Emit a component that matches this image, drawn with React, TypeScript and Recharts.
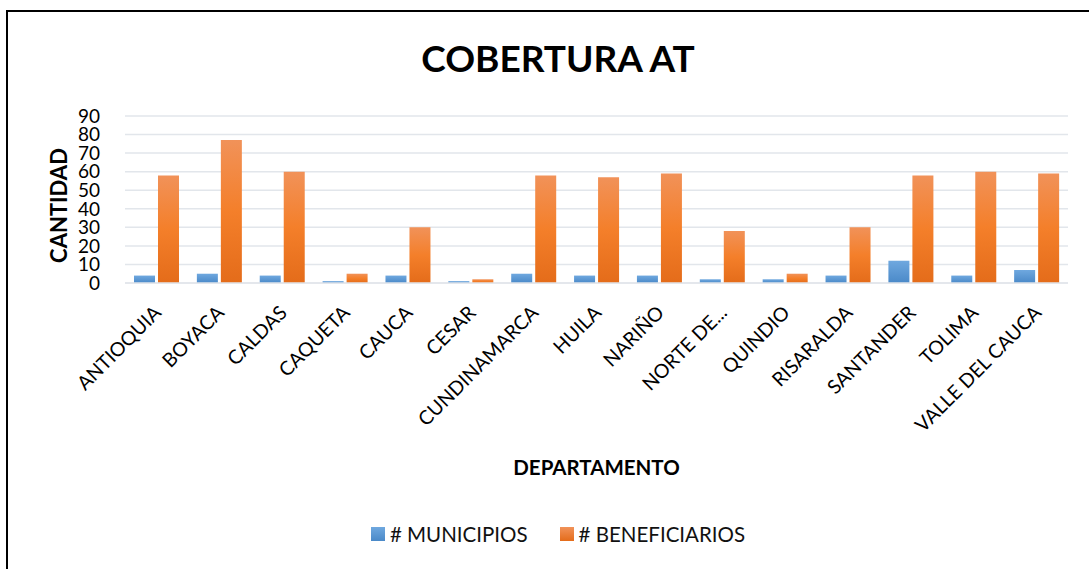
import { BarChart, Bar, XAxis, YAxis, CartesianGrid, Label } from 'recharts';

const departamentos = [
  'ANTIOQUIA', 'BOYACA', 'CALDAS', 'CAQUETA', 'CAUCA', 'CESAR', 'CUNDINAMARCA', 'HUILA',
  'NARIÑO', 'NORTE DE...', 'QUINDIO', 'RISARALDA', 'SANTANDER', 'TOLIMA', 'VALLE DEL CAUCA',
];
const municipios = [4, 5, 4, 1, 4, 1, 5, 4, 4, 2, 2, 4, 12, 4, 7];
const beneficiarios = [58, 77, 60, 5, 30, 2, 58, 57, 59, 28, 5, 30, 58, 60, 59];
const yTicks = [0, 10, 20, 30, 40, 50, 60, 70, 80, 90];

const data = departamentos.map((d, i) => ({
  name: d,
  municipios: municipios[i],
  beneficiarios: beneficiarios[i],
}));

const FONT = 'Lato, "Open Sans", sans-serif';

const XTick = (props: any) => {
  const { x, y, payload } = props;
  return (
    <g transform={`translate(${x + 6},${y + 23})`}>
      <text transform="rotate(-45)" textAnchor="end" fontSize={19.5} fill="#000" fontFamily={FONT}>
        {payload.value}
      </text>
    </g>
  );
};

const YTitle = (props: any) => {
  const { viewBox } = props;
  const cx = viewBox.x + 13;
  const cy = viewBox.y + viewBox.height / 2 + 6;
  return (
    <text
      x={cx}
      y={cy}
      transform={`rotate(-90, ${cx}, ${cy})`}
      textAnchor="middle"
      dominantBaseline="central"
      fontSize={22}
      fontWeight="bold"
      fontFamily={FONT}
      fill="#000"
    >
      CANTIDAD
    </text>
  );
};

const XTitle = (props: any) => {
  const { viewBox } = props;
  return (
    <text
      x={viewBox.x + viewBox.width / 2}
      y={467}
      textAnchor="middle"
      dominantBaseline="central"
      fontSize={20.5}
      fontWeight="bold"
      fontFamily={FONT}
      fill="#000"
    >
      DEPARTAMENTO
    </text>
  );
};

export default function App() {
  return (
    <div style={{ position: 'absolute', left: 0, top: 0, width: 1089, height: 569, background: '#fff', overflow: 'hidden' }}>
      <div
        style={{
          position: 'absolute',
          left: 6,
          top: 10,
          width: 1083,
          height: 559,
          borderTop: '2px solid #000',
          borderLeft: '2px solid #000',
        }}
      />
      <div
        style={{
          position: 'absolute',
          left: 0,
          top: 35,
          width: 1116,
          textAlign: 'center',
          fontFamily: FONT,
          fontWeight: 'bold',
          fontSize: 37,
          color: '#000',
        }}
      >
        COBERTURA AT
      </div>
      <div style={{ position: 'absolute', left: 0, top: 0 }}>
        <BarChart
          width={1089}
          height={569}
          data={data}
          margin={{ top: 116, right: 21, left: 45, bottom: 136 }}
          barGap={3}
          barSize={21}
        >
          <defs>
            <linearGradient id="gBlue" x1="0" y1="0" x2="0" y2="1">
              <stop offset="0%" stopColor="#6FA8DF" />
              <stop offset="100%" stopColor="#4A89C8" />
            </linearGradient>
            <linearGradient id="gOrange" x1="0" y1="0" x2="0" y2="1">
              <stop offset="0%" stopColor="#F19259" />
              <stop offset="50%" stopColor="#F47F2A" />
              <stop offset="100%" stopColor="#E46C1A" />
            </linearGradient>
          </defs>
          <CartesianGrid vertical={false} stroke="#E2E6EB" strokeWidth={1.5} />
          <XAxis
            dataKey="name"
            interval={0}
            height={150}
            tick={<XTick />}
            tickLine={false}
            axisLine={{ stroke: '#E2E6EB', strokeWidth: 1.5 }}
          >
            <Label content={<XTitle />} />
          </XAxis>
          <YAxis
            domain={[0, 90]}
            ticks={yTicks}
            interval={0}
            width={80}
            tickLine={false}
            axisLine={false}
            tickMargin={19}
            tick={{ fill: '#000', fontSize: 19, fontFamily: FONT }}
          >
            <Label content={<YTitle />} />
          </YAxis>
          <Bar dataKey="municipios" name="# MUNICIPIOS" fill="url(#gBlue)" isAnimationActive={false} />
          <Bar dataKey="beneficiarios" name="# BENEFICIARIOS" fill="url(#gOrange)" isAnimationActive={false} />
        </BarChart>
      </div>
      <div
        style={{
          position: 'absolute',
          left: 0,
          top: 522,
          width: 1116,
          display: 'flex',
          justifyContent: 'center',
          fontFamily: FONT,
          fontSize: 20.5,
          color: '#111',
        }}
      >
        <span style={{ display: 'flex', alignItems: 'center', marginRight: 32 }}>
          <span style={{ width: 14, height: 14, background: 'linear-gradient(#6FA8DF, #4A89C8)', marginRight: 5 }} />
          # MUNICIPIOS
        </span>
        <span style={{ display: 'flex', alignItems: 'center' }}>
          <span style={{ width: 14, height: 14, background: 'linear-gradient(#F19259, #E46C1A)', marginRight: 5 }} />
          # BENEFICIARIOS
        </span>
      </div>
    </div>
  );
}
